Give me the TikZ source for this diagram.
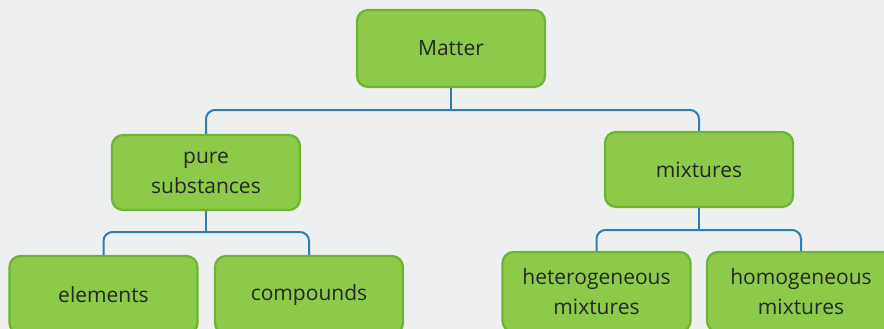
\documentclass[tikz,border=0pt]{standalone}
\usepackage{fontspec}
\setmainfont{Open Sans}
\definecolor{paper}{HTML}{EEF0EF}
\definecolor{boxfill}{HTML}{8DCA4A}
\definecolor{boxline}{HTML}{6BB52F}
\definecolor{conn}{HTML}{2D7DB5}
\begin{document}
\begin{tikzpicture}[x=1pt,y=-1pt,
  cbox/.style={draw=boxline, line width=2.2pt, fill=boxfill, rounded corners=11pt,
    minimum width=#1, align=center, inner sep=0pt, text=black!85, font=\fontsize{21}{30}\selectfont},
  cbox/.default=188pt,
  connline/.style={draw=conn, line width=2pt, rounded corners=9pt}]
\fill[paper] (0,0) rectangle (884,329);
\useasboundingbox (0,0) rectangle (884,329);
\begin{scope}
\clip (0,0) rectangle (884,329);
\node[cbox, minimum height=77pt] (matter) at (451,48.5) {Matter};
\node[cbox, minimum height=75pt] (pure) at (206,172.5) {pure\\substances};
\node[cbox, minimum height=75pt] (mix) at (699,169.5) {mixtures};
\node[cbox, minimum height=78pt] (elem) at (103.5,295) {elements};
\node[cbox, minimum height=78pt] (comp) at (309,295) {compounds};
\node[cbox, minimum height=80pt] (het) at (596.5,292) {heterogeneous\\mixtures};
\node[cbox, minimum height=80pt] (hom) at (801,292) {homogeneous\\mixtures};
\coordinate (j1) at (451,110);
\coordinate (j2) at (206,232);
\coordinate (j3) at (699,230);
\draw[connline] (matter.south) -- (j1);
\draw[connline] (pure.north) |- (j1) -| (mix.north);
\draw[connline] (pure.south) -- (j2);
\draw[connline] (elem.north) |- (j2) -| (comp.north);
\draw[connline] (mix.south) -- (j3);
\draw[connline] (het.north) |- (j3) -| (hom.north);
\end{scope}
\end{tikzpicture}
\end{document}
